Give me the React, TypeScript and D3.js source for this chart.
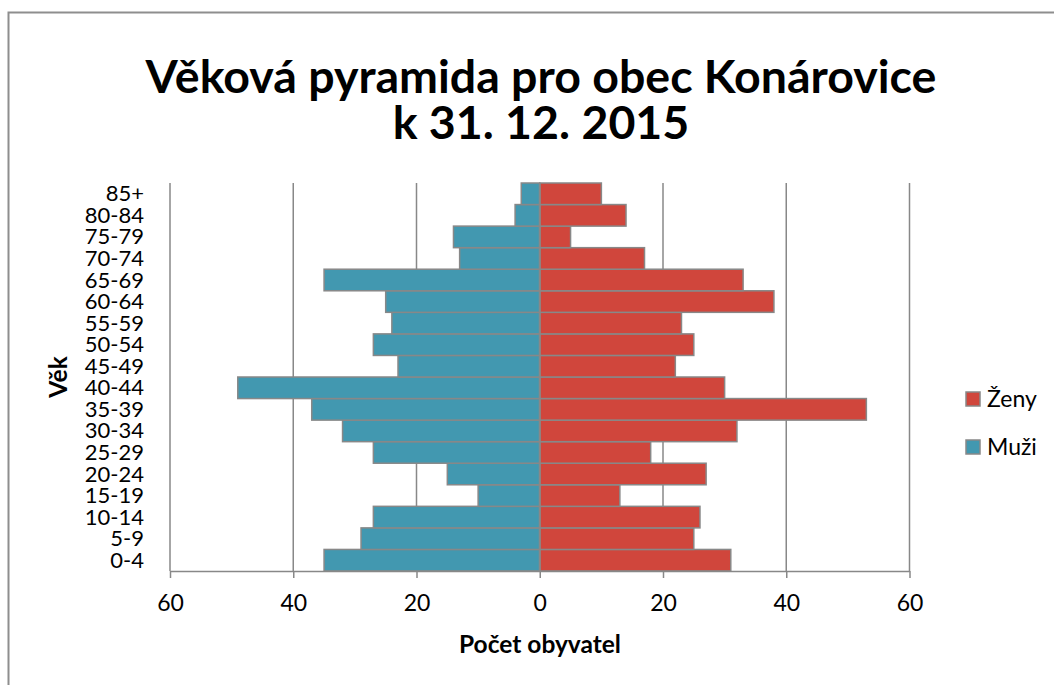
import React, { useEffect, useRef } from "react";
import * as d3 from "d3";

const AGE_GROUPS = ["0-4", "5-9", "10-14", "15-19", "20-24", "25-29", "30-34", "35-39", "40-44",
    "45-49", "50-54", "55-59", "60-64", "65-69", "70-74", "75-79", "80-84", "85+"];
const MEN = [35, 29, 27, 10, 15, 27, 32, 37, 49, 23, 27, 24, 25, 35, 13, 14, 4, 3];
const WOMEN = [31, 25, 26, 13, 27, 18, 32, 53, 30, 22, 25, 23, 38, 33, 17, 5, 14, 10];
const X_TICKS = [-60, -40, -20, 0, 20, 40, 60];
const TITLE_LINES = ["Věková pyramida pro obec Konárovice", "k 31. 12. 2015"];
const LEGEND = [
    { label: "Ženy", color: "#d0463c" },
    { label: "Muži", color: "#4298b0" },
];

const W = 1054;
const H = 685;
const FONT = "Lato, 'Open Sans', sans-serif";
const GRID = "#888888";
const MEN_COLOR = "#4298b0";
const WOMEN_COLOR = "#d0463c";

const App = () => {
    const svgRef = useRef<SVGSVGElement>(null);

    useEffect(() => {
        if (!svgRef.current) return;
        const svg = d3.select(svgRef.current);
        svg.selectAll("*").remove();

        const left = 170, right = 909.5, top = 183, bottom = 571;

        const x = d3.scaleLinear().domain([-60, 60]).range([left, right]);
        const y = d3.scaleBand<string>()
            .domain([...AGE_GROUPS].reverse())
            .range([top, bottom])
            .padding(0);

        // outer frame
        svg.append("rect")
            .attr("x", 8.5).attr("y", 12.5)
            .attr("width", W + 20).attr("height", H + 20)
            .attr("fill", "#fff")
            .attr("stroke", "#8e8e8e").attr("stroke-width", 2);

        // title
        TITLE_LINES.forEach((t, i) => {
            svg.append("text")
                .attr("x", 541).attr("y", 93 + i * 46)
                .attr("text-anchor", "middle")
                .attr("font-family", FONT).attr("font-weight", "700")
                .attr("font-size", "46.5px").attr("fill", "#000")
                .text(t);
        });

        // vertical gridlines
        svg.append("g")
            .selectAll("line")
            .data(X_TICKS.filter(d => d !== 0))
            .join("line")
            .attr("x1", d => x(d)).attr("x2", d => x(d))
            .attr("y1", top).attr("y2", bottom)
            .attr("stroke", GRID).attr("stroke-width", 1.5);

        // bars
        const bars = svg.append("g");
        AGE_GROUPS.forEach((g, i) => {
            bars.append("rect")
                .attr("x", x(-MEN[i])).attr("y", y(g)!)
                .attr("width", x(0) - x(-MEN[i])).attr("height", y.bandwidth())
                .attr("fill", MEN_COLOR)
                .attr("stroke", GRID).attr("stroke-width", 1.5);
            bars.append("rect")
                .attr("x", x(0)).attr("y", y(g)!)
                .attr("width", x(WOMEN[i]) - x(0)).attr("height", y.bandwidth())
                .attr("fill", WOMEN_COLOR)
                .attr("stroke", GRID).attr("stroke-width", 1.5);
        });

        // zero axis line
        svg.append("line")
            .attr("x1", x(0)).attr("x2", x(0))
            .attr("y1", top).attr("y2", bottom)
            .attr("stroke", GRID).attr("stroke-width", 2);

        // bottom axis
        const xAxis = svg.append("g")
            .attr("transform", `translate(0,${bottom})`)
            .call(d3.axisBottom(x).tickValues(X_TICKS).tickSize(7).tickSizeOuter(0).tickPadding(17)
                .tickFormat(d => String(Math.abs(+d))));
        xAxis.select(".domain").attr("stroke", GRID).attr("stroke-width", 1.5);
        xAxis.selectAll(".tick line").attr("stroke", GRID).attr("stroke-width", 1.5);
        xAxis.selectAll(".tick text")
            .attr("font-family", FONT).attr("font-size", "23px").attr("fill", "#000");

        // category labels
        svg.append("g")
            .selectAll("text")
            .data(AGE_GROUPS)
            .join("text")
            .attr("x", 144)
            .attr("y", d => y(d)! + y.bandwidth() / 2 + 7.5)
            .attr("text-anchor", "end")
            .attr("font-family", FONT).attr("font-size", "22px").attr("fill", "#000")
            .text(d => d);

        // axis titles
        svg.append("text")
            .attr("x", 540).attr("y", 653)
            .attr("text-anchor", "middle")
            .attr("font-family", FONT).attr("font-weight", "700")
            .attr("font-size", "24.5px").attr("fill", "#000")
            .text("Počet obyvatel");

        svg.append("text")
            .attr("transform", `translate(67,${(top + bottom) / 2}) rotate(-90)`)
            .attr("text-anchor", "middle")
            .attr("font-family", FONT).attr("font-weight", "700")
            .attr("font-size", "24.5px").attr("fill", "#000")
            .text("Věk");

        // legend
        LEGEND.forEach((l, i) => {
            const ly = 392 + i * 48;
            svg.append("rect")
                .attr("x", 966).attr("y", ly)
                .attr("width", 14).attr("height", 14)
                .attr("fill", l.color)
                .attr("stroke", GRID).attr("stroke-width", 1.5);
            svg.append("text")
                .attr("x", 987).attr("y", ly + 15)
                .attr("font-family", FONT).attr("font-size", "23px").attr("fill", "#000")
                .text(l.label);
        });
    }, []);

    return (
        <svg
            ref={svgRef}
            width={W}
            height={H}
            style={{ position: "absolute", left: 0, top: 0, background: "#fff" }}
        />
    );
};

export default App;
